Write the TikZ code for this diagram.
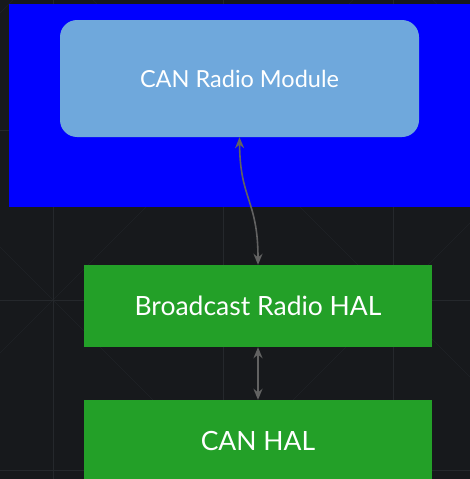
\documentclass[tikz,border=0pt]{standalone}
\usepackage{fontspec}
\setmainfont{Lato}
\usetikzlibrary{arrows.meta}
\definecolor{bgdark}{HTML}{17191C}
\definecolor{gridline}{HTML}{25282C}
\definecolor{gridfaint}{HTML}{1F2226}
\definecolor{modblue}{HTML}{6FA8DC}
\definecolor{halgreen}{HTML}{23A028}
\definecolor{wire}{HTML}{626262}
\tikzset{
	module/.style={rectangle, rounded corners=17pt, fill=modblue, text=white, minimum width=359pt, minimum height=117pt, font=\fontsize{23.5}{28}\selectfont},
	hal/.style={rectangle, fill=halgreen, text=white, minimum width=348pt, minimum height=82pt, font=\fontsize{26.5}{31}\selectfont},
	link/.style={wire, line width=1.6pt, {Stealth[length=11pt,width=9pt]}-{Stealth[length=11pt,width=9pt]}}
}
\begin{document}
\begin{tikzpicture}[x=1pt, y=-1pt]
		\fill [bgdark] (0, 0) rectangle (470, 479);
		\useasboundingbox (0, 0) rectangle (470, 479);
		% grid behind everything
		\begin{scope}
			\clip (0, 0) rectangle (470, 479);
			\foreach \d in {-587, -247, 93, 433}
				\draw [gridfaint] (\d, 0) -- ++(700, 700);
			\foreach \s in {13, 353, 693, 1033}
				\draw [gridfaint] (\s, 0) -- ++(-700, 700);
			\foreach \gx in {53, 223, 393}
				\draw [gridline] (\gx, 0) -- (\gx, 479);
			\foreach \gy in {130, 300, 470}
				\draw [gridline] (0, \gy) -- (470, \gy);
		\end{scope}
		\fill [blue] (9, 4) rectangle (470, 207);
		\node [module] (canmod) at (239.5, 78.5) {CAN Radio Module};
		\node [hal] (brhal) at (258, 306) {Broadcast Radio HAL};
		\node [hal] (canhal) at (258, 441) {CAN HAL};
		\draw [link] (canmod.south) .. controls (240, 200) and (258, 200) .. (brhal.north);
		\draw [link] (brhal.south) -- (canhal.north);
\end{tikzpicture}
\end{document}
